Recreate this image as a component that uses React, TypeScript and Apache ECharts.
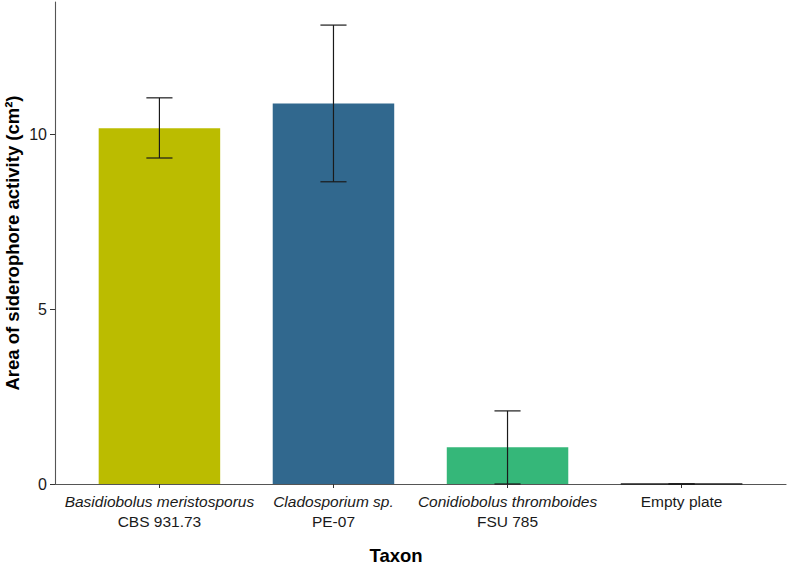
import React, { useEffect, useRef } from "react";
import * as echarts from "echarts";

const taxa = [
  "Basidiobolus meristosporus",
  "Cladosporium sp.",
  "Conidiobolus thromboides",
  "Empty plate",
];
const strains = ["CBS 931.73", "PE-07", "FSU 785", ""];
const italicName = [true, true, true, false];
const means = [10.17, 10.88, 1.05, 0];
const errLow = [9.32, 8.64, 0, 0];
const errHigh = [11.04, 13.12, 2.09, 0];
const positions = [1, 2, 3, 4];
const yTicks = [0, 5, 10];
const palette = ["#BBBC00", "#31688E", "#35B779", "#440154"];

const FONT = "'Liberation Sans', Arial, Helvetica, sans-serif";

export default function App() {
  const ref = useRef<HTMLDivElement>(null);
  useEffect(() => {
    if (!ref.current) return;
    const chart = echarts.init(ref.current, null, { renderer: "svg" });
    const option: any = {
      animation: false,
      backgroundColor: "#ffffff",
      textStyle: { fontFamily: FONT },
      grid: { left: 55, right: 3, top: 2, bottom: 80, containLabel: false, outerBoundsMode: "none" },
      xAxis: {
        type: "value",
        min: 0.4,
        max: 4.6,
        axisLine: { show: true, onZero: false, lineStyle: { color: "#555", width: 1.1 } },
        axisTick: {
          show: true,
          length: 4,
          customValues: positions,
          lineStyle: { color: "#333", width: 1 },
        },
        splitLine: { show: false },
        axisLabel: {
          customValues: positions,
          margin: 7,
          color: "#1a1a1a",
          fontFamily: FONT,
          fontSize: 15.5,
          lineHeight: 20,
          formatter: (v: number) => {
            const i = Math.round(v) - 1;
            if (i < 0 || i >= taxa.length) return "";
            const first = italicName[i] ? `{i|${taxa[i]}}` : `{n|${taxa[i]}}`;
            return strains[i] ? `${first}\n{n|${strains[i]}}` : first;
          },
          rich: {
            i: { fontStyle: "italic", fontSize: 15.5, lineHeight: 20, color: "#1a1a1a", fontFamily: FONT },
            n: { fontSize: 15.5, lineHeight: 20, color: "#1a1a1a", fontFamily: FONT },
          },
        },
      },
      yAxis: {
        type: "value",
        min: 0,
        max: 13.78,
        interval: 5,
        name: "Area of siderophore activity (cm²)",
        nameLocation: "middle",
        nameRotate: 90,
        nameGap: 33,
        nameMoveOverlap: false,
        nameTextStyle: { fontFamily: FONT, fontSize: 18.5, fontWeight: "bold", color: "#000" },
        axisLine: { show: true, lineStyle: { color: "#555", width: 1.1 } },
        axisTick: { show: true, length: 5, customValues: yTicks, lineStyle: { color: "#333", width: 1 } },
        splitLine: { show: false },
        axisLabel: {
          margin: 8,
          color: "#1a1a1a",
          fontFamily: FONT,
          fontSize: 16,
          formatter: (v: number) => (v > 13 ? "" : String(v)),
        },
      },
      graphic: [
        {
          type: "text",
          x: 396,
          y: 555,
          style: {
            text: "Taxon",
            fontFamily: FONT,
            fontSize: 18.5,
            fontWeight: "bold",
            fill: "#000",
            align: "center",
            verticalAlign: "middle",
          },
        },
      ],
      series: [
        {
          type: "bar",
          barWidth: 121.5,
          data: positions.map((p, i) => ({
            value: [p, means[i]],
            itemStyle: {
              color: palette[i],
              borderColor: means[i] === 0 ? "#222" : palette[i],
              borderWidth: means[i] === 0 ? 1 : 0,
            },
          })),
        },
        {
          type: "custom",
          z: 5,
          data: positions.map((p, i) => [p, errLow[i], errHigh[i]]),
          renderItem: (params: any, api: any) => {
            const x = api.value(0);
            const lo = api.coord([x, api.value(1)]);
            const hi = api.coord([x, api.value(2)]);
            const half = api.size([0.15, 0])[0] / 2;
            const style = { stroke: "#1a1a1a", lineWidth: 1.2 };
            return {
              type: "group",
              children: [
                { type: "line", shape: { x1: lo[0], y1: lo[1], x2: hi[0], y2: hi[1] }, style },
                { type: "line", shape: { x1: hi[0] - half, y1: hi[1], x2: hi[0] + half, y2: hi[1] }, style },
                { type: "line", shape: { x1: lo[0] - half, y1: lo[1], x2: lo[0] + half, y2: lo[1] }, style },
              ],
            };
          },
        },
      ],
    };
    chart.setOption(option);
    return () => chart.dispose();
  }, []);
  return (
    <div
      ref={ref}
      style={{ position: "fixed", left: 0, top: 0, width: 789, height: 564, background: "#fff" }}
    />
  );
}
